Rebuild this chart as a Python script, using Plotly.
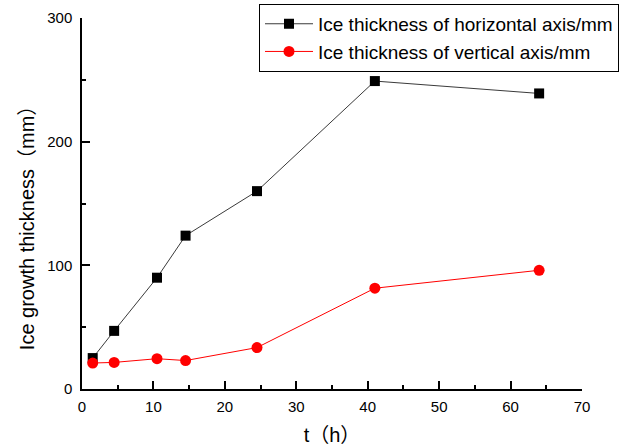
import plotly.graph_objects as go

# Elapsed time (h) and measured ice thickness (mm)
t_hours = [1.5, 4.5, 10.5, 14.5, 24.5, 41, 64]
horizontal_mm = [25, 47, 90, 124, 160, 249, 239]
vertical_mm = [21, 21.5, 24.5, 23, 33.5, 81.5, 96]

FONT = "Liberation Sans, Arial, Noto Sans CJK SC, sans-serif"

fig = go.Figure()
fig.add_trace(go.Scatter(
    x=t_hours, y=horizontal_mm, mode="lines+markers",
    name="Ice thickness of horizontal axis/mm",
    line=dict(color="#3a3a3a", width=1),
    marker=dict(symbol="square", size=10, color="black"),
))
fig.add_trace(go.Scatter(
    x=t_hours, y=vertical_mm, mode="lines+markers",
    name="Ice thickness of vertical axis/mm",
    line=dict(color="red", width=1),
    marker=dict(symbol="circle", size=11, color="red"),
))

axis_common = dict(
    showline=True, linecolor="black", linewidth=1.5, mirror=False,
    ticks="inside", ticklen=8, tickwidth=1.5, tickcolor="black",
    showgrid=False, zeroline=False,
    tickfont=dict(family=FONT, size=15, color="black"),
)

fig.update_xaxes(
    range=[0, 70], dtick=10, tick0=0, ticklabelstandoff=3,
    minor=dict(ticks="inside", ticklen=4, tickwidth=1.5, tickcolor="black", dtick=5),
    title=dict(text="t（h）", font=dict(family=FONT, size=20, color="black"), standoff=15),
    **axis_common,
)
fig.update_yaxes(
    range=[0, 300], dtick=100, tick0=0, ticklabelstandoff=5,
    minor=dict(ticks="inside", ticklen=4, tickwidth=1.5, tickcolor="black", dtick=50),
    **axis_common,
)

# Vertical axis title, placed slightly below the plot's mid-height
fig.add_annotation(
    text="Ice growth thickness（mm）", textangle=-90,
    xref="paper", yref="paper", x=-0.11, y=0.447,
    xanchor="center", yanchor="middle", showarrow=False,
    font=dict(family=FONT, size=20, color="black"),
)

fig.update_layout(
    width=628, height=446,
    margin=dict(l=82, r=46, t=18, b=57, autoexpand=False),
    paper_bgcolor="white", plot_bgcolor="white",
    showlegend=True,
    legend=dict(
        x=0.354, y=1.038, xanchor="left", yanchor="top",
        bordercolor="black", borderwidth=1, bgcolor="white",
        font=dict(family=FONT, size=19, color="black"),
        tracegroupgap=0, itemwidth=48,
    ),
)

fig.write_html("out.html")
